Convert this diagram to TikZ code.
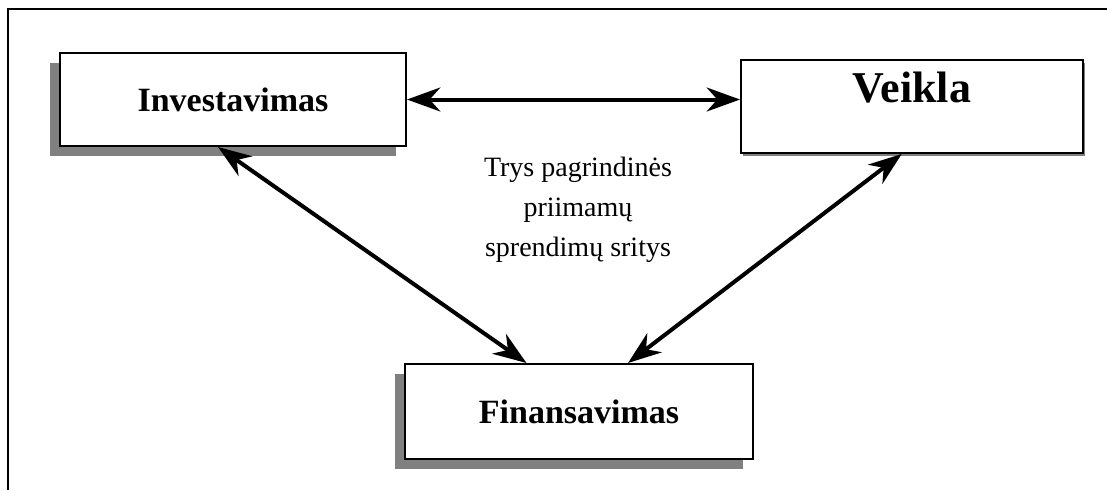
\documentclass[tikz,border=0pt]{standalone}
\usepackage{fontspec}
\setmainfont{Liberation Serif}
\usetikzlibrary{arrows.meta,calc,shadows}
\definecolor{shadowgray}{RGB}{128,128,128}
\begin{document}
\begin{tikzpicture}[x=0.75pt,y=-0.75pt,
  box/.style={draw=black, line width=1.5pt, fill=white, inner sep=0pt,
    font=\bfseries\fontsize{25.5}{30}\selectfont},
  shadowL/.style={general shadow={fill=shadowgray, shadow xshift=-7.5pt, shadow yshift=-7.5pt}},
  shadowR/.style={general shadow={fill=shadowgray, shadow xshift=1.5pt, shadow yshift=-2.25pt}},
  arr/.style={line width=3pt, {Stealth[length=25pt,width=18pt,inset=8pt]}-{Stealth[length=25pt,width=18pt,inset=8pt]}},
  frame/.style={line width=1.5pt}
]
\useasboundingbox (0,0) rectangle (1107,490);
% outer frame (top and left only)
\coordinate (fa) at (8,490);
\coordinate (fb) at (8,9);
\coordinate (fc) at (1107,9);
\draw[frame] (fa) -- (fb) -- (fc);
% boxes
\node[box, shadowL, minimum width=259.5pt, minimum height=69.75pt] (inv) at (233,99.5) {Investavimas};
\node[box, shadowR, minimum width=256.5pt, minimum height=69.75pt,
  font=\bfseries\fontsize{33}{40}\selectfont, text depth=29pt] (vei) at (912,106.5) {Veikla};
\node[box, shadowL, minimum width=261pt, minimum height=71.25pt] (fin) at (579,411.5) {Finansavimas};
% centre text
\node[font=\fontsize{21}{30}\selectfont, align=center] (txt) at (578,210)
  {Trys pagrindinės\\priimamų\\sprendimų sritys};
% connectors
\draw[arr] (inv.east) -- (inv.east -| vei.west);
\draw[arr] ($(inv.south west)!0.457!(inv.south east)$) -- ($(fin.north west)!0.35!(fin.north east)$);
\draw[arr] ($(fin.north west)!0.64!(fin.north east)$) -- ($(vei.south west)!0.47!(vei.south east)$);
\end{tikzpicture}
\end{document}
